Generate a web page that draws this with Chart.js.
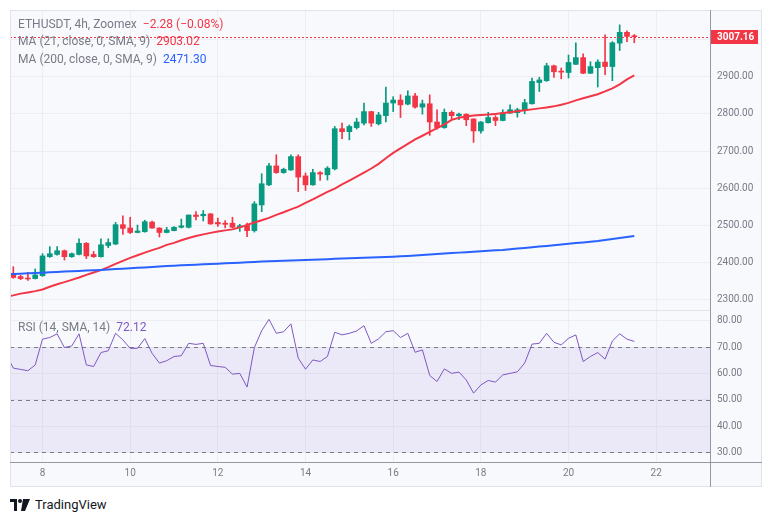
<!DOCTYPE html>
<html>
<head>
<meta charset="utf-8">
<script src="https://cdn.jsdelivr.net/npm/chart.js@4.4.1/dist/chart.umd.min.js"></script>
<style>
  html, body { margin: 0; padding: 0; background: #fff; }
  body { width: 772px; height: 523px; position: relative; overflow: hidden; font-family: Roboto, "Noto Sans", sans-serif; }
  .frame { position: absolute; left: 10px; top: 10px; width: 752px; height: 477px; background: #f8f9fd; }
  .box { position: absolute; left: 10px; width: 752px; }
  #mainBox { top: 10px; height: 301px; }
  #rsiBox { top: 311px; height: 176px; }
  .rule { position: absolute; pointer-events: none; }
  .legend { position: absolute; left: 18px; font-size: 12px; line-height: 14px; color: #787b86; white-space: nowrap; }
  .legend span { margin-left: 6px; }
  .brand { position: absolute; left: 10px; top: 497px; display: flex; align-items: center; font-size: 13px; color: #131722; }
  .brand svg { margin-right: 5px; }
</style>
</head>
<body>
<div class="frame"></div>
<div class="box" id="mainBox"><canvas id="mainChart"></canvas></div>
<div class="box" id="rsiBox"><canvas id="rsiChart"></canvas></div>

<div class="rule" style="left:10px;top:10px;width:752px;height:477px;border:1px solid #e0e3eb;box-sizing:border-box"></div>
<div class="rule" style="left:10px;top:310px;width:700px;height:1px;background:#e0e3eb"></div>
<div class="rule" style="left:10px;top:462px;width:752px;height:1px;background:#9598a1"></div>
<div class="rule" style="left:710px;top:10px;width:1px;height:477px;background:#9598a1"></div>

<div class="legend" style="top:17px">ETHUSDT, 4h, Zoomex<span style="color:#f23645">&minus;2.28 (&minus;0.08%)</span></div>
<div class="legend" style="top:34px">MA (21, close, 0, SMA, 9)<span style="color:#f23645">2903.02</span></div>
<div class="legend" style="top:52px">MA (200, close, 0, SMA, 9)<span style="color:#2962ff">2471.30</span></div>
<div class="legend" style="top:320px">RSI (14, SMA, 14)<span style="color:#7e57c2">72.12</span></div>

<div class="brand">
  <svg width="20" height="12" viewBox="0 0 20 12"><path d="M0 0h7v12H4V3H0z" fill="#131722"/><circle cx="10" cy="2" r="2" fill="#131722"/><path d="M13 0h7l-5 12h-4z" fill="#131722"/></svg>
  <span>TradingView</span>
</div>

<script>
// 4h candles, first one is the 7th 08:00
const opens  = [2369, 2362.6, 2358, 2357, 2365, 2416, 2422, 2432, 2416, 2422, 2452, 2422, 2416, 2446, 2450, 2502, 2493, 2481, 2483, 2509, 2493, 2481, 2486, 2495, 2495, 2528, 2526, 2531, 2508, 2506, 2506, 2495, 2500, 2486, 2555, 2609, 2660, 2642, 2649, 2685, 2633, 2609, 2642, 2636, 2652, 2760, 2752, 2763, 2775, 2806, 2773, 2795, 2829, 2837, 2826, 2848, 2818, 2827, 2778, 2763, 2804, 2795, 2799, 2786, 2754, 2776, 2790, 2782, 2802, 2803, 2809, 2827, 2884, 2889, 2929, 2915, 2911, 2933, 2951, 2909, 2924, 2939, 2927, 2990, 3019, 3009.44];
const highs  = [2389, 2366, 2374, 2383, 2424, 2443, 2443, 2434, 2426, 2464, 2454, 2430, 2464, 2464, 2508, 2526, 2522, 2501, 2514, 2512, 2494, 2495, 2497, 2517, 2528, 2537, 2540, 2532, 2520, 2513, 2522, 2503, 2506, 2564, 2639, 2667, 2690, 2654, 2690, 2690, 2641, 2651, 2645, 2658, 2766, 2775, 2770, 2788, 2829, 2807, 2804, 2872, 2846, 2851, 2862, 2855, 2837, 2851, 2811, 2813, 2808, 2802, 2800, 2787, 2779, 2804, 2795, 2811, 2824, 2815, 2839, 2896, 2898, 2936, 2931, 2923, 2958, 2991, 2961, 2940, 2945, 3012, 2994, 3039, 3023, 3013];
const lows   = [2358, 2354, 2352, 2356, 2363, 2414, 2420, 2407, 2414, 2421, 2411, 2414, 2415, 2440, 2448, 2476, 2478, 2480, 2482, 2492, 2469, 2480, 2485, 2493, 2493, 2515, 2512, 2503, 2497, 2493, 2493, 2484, 2470, 2482, 2537, 2607, 2640, 2640, 2648, 2591, 2594, 2608, 2621, 2622, 2649, 2733, 2730, 2759, 2770, 2766, 2770, 2778, 2806, 2790, 2824, 2815, 2799, 2742, 2759, 2761, 2784, 2784, 2768, 2723, 2748, 2775, 2768, 2781, 2801, 2791, 2800, 2826, 2860, 2887, 2898, 2894, 2896, 2932, 2908, 2908, 2872, 2905, 2889, 2970, 2994, 2991];
const closes = [2360, 2357, 2356, 2367, 2418, 2424, 2432, 2416, 2424, 2452, 2418, 2416, 2448, 2454, 2502, 2492, 2481, 2485, 2510, 2493, 2481, 2488, 2495, 2499, 2528, 2524, 2530, 2504, 2504, 2503, 2495, 2499, 2486, 2558, 2612, 2660, 2642, 2651, 2685, 2630, 2609, 2642, 2638, 2654, 2760, 2752, 2766, 2778, 2806, 2775, 2797, 2829, 2837, 2824, 2848, 2818, 2827, 2778, 2763, 2804, 2795, 2799, 2784, 2754, 2778, 2790, 2782, 2802, 2811, 2811, 2830, 2887, 2891, 2929, 2913, 2912, 2938, 2951, 2909, 2927, 2939, 2927, 2991, 3019, 3008, 3007.16];

// indicator series start one bar before the first visible candle
const ma21  = [2308, 2312, 2316.7, 2320, 2323.4, 2328, 2335, 2342, 2347.5, 2353.7, 2360, 2367, 2373.3, 2380, 2388, 2396.7, 2404.8, 2412.8, 2419.8, 2426.8, 2433.5, 2439.7, 2447.8, 2453, 2460, 2466, 2471.4, 2476, 2480, 2483.5, 2486.7, 2489.4, 2494.8, 2501.5, 2508, 2513.9, 2520.3, 2528.4, 2535.4, 2543.2, 2550.7, 2560.6, 2570, 2580, 2590.2, 2599, 2610.3, 2620.6, 2631, 2641.8, 2653, 2665.4, 2680.7, 2695, 2707, 2719, 2731, 2741, 2751.4, 2761.3, 2771.6, 2783.6, 2789.6, 2793, 2795.5, 2797, 2798, 2799.8, 2802, 2804.3, 2807, 2809.4, 2811.9, 2814.6, 2817.2, 2820, 2824.5, 2829.3, 2836, 2842, 2847.3, 2852.7, 2860.2, 2868.3, 2879, 2892.5, 2903.02];
const ma200 = [2368.7, 2369.5, 2370.4, 2371.3, 2372.2, 2373.1, 2374.0, 2375.0, 2375.9, 2376.8, 2377.7, 2378.6, 2379.5, 2380.5, 2381.6, 2382.7, 2383.8, 2384.9, 2386.0, 2387.1, 2388.2, 2389.5, 2390.8, 2391.8, 2392.7, 2393.6, 2394.5, 2395.4, 2396.3, 2397.2, 2398.1, 2399.0, 2399.9, 2400.8, 2401.8, 2402.8, 2403.6, 2404.3, 2405.0, 2405.8, 2406.5, 2407.2, 2408.0, 2408.7, 2409.4, 2410.1, 2410.8, 2411.5, 2412.2, 2412.9, 2413.6, 2414.3, 2415.0, 2415.9, 2416.9, 2418.1, 2419.3, 2420.5, 2421.7, 2423.0, 2424.3, 2425.6, 2426.9, 2428.2, 2429.5, 2430.7, 2431.9, 2433.0, 2434.1, 2435.9, 2437.7, 2439.5, 2441.3, 2443.1, 2444.9, 2446.8, 2448.7, 2450.6, 2452.5, 2454.4, 2456.3, 2458.2, 2460.8, 2463.4, 2466.0, 2468.6, 2471.3];
const rsi   = [67.5, 62, 61.5, 61, 63.2, 73, 73.6, 75, 69.8, 70.4, 75, 63.2, 62.6, 67.9, 68.6, 75.2, 72.7, 69.5, 69.5, 73.2, 67.6, 63.9, 64.8, 66.4, 66.7, 71.4, 71, 71.4, 63, 62.6, 62.3, 59.7, 60, 54.8, 69.8, 76.2, 80.5, 75.2, 75.8, 78.8, 65.8, 61.6, 65.1, 64.5, 66.4, 75.6, 74.6, 75.2, 76.1, 78.1, 71.4, 73.1, 75.8, 76.2, 73.6, 75.2, 68, 68.9, 59.2, 56.9, 61.7, 60, 60.5, 57.5, 52.5, 55.6, 57.3, 56.7, 59.4, 60, 60.6, 63.9, 71.1, 71.4, 75.2, 71.8, 70.8, 73.3, 74.6, 64.5, 66.4, 67.9, 65.4, 72.3, 75, 73, 72.12];

const dayBars   = [4, 16, 28, 40, 52, 64, 76, 88];
const dayLabels = ['8', '10', '12', '14', '16', '18', '20', '22'];
const priceTicks = [2300, 2400, 2500, 2600, 2700, 2800, 2900, 3000];
const rsiTicks   = [30, 40, 50, 60, 70, 80];
const rsiLevels  = [70, 50, 30];

const GREEN = '#089981', RED = '#f23645', BLUE = '#2962ff', PURPLE = '#7e57c2';
const GRID = '#eceef2', TICK = '#787b86';
const X_MIN = -0.45, X_MAX = 95.5;
const FONT = { family: 'Roboto', size: 10 };

const candleColors = closes.map((c, i) => c >= opens[i] ? GREEN : RED);
const bodies = opens.map((o, i) => ({ x: i, y: [o, closes[i]] }));
const wicks = lows.map((l, i) => ({ x: i, y: [l, highs[i]] }));
const asLine = arr => arr.map((v, i) => ({ x: i - 1, y: v }));

// no auto padding, the panes have to line up exactly
const noPad = s => { s.paddingTop = 0; s.paddingBottom = 0; s.paddingLeft = 0; s.paddingRight = 0; };

const xAxis = height => ({
  type: 'linear', min: X_MIN, max: X_MAX, offset: false,
  grid: { color: GRID, drawTicks: false, offset: false },
  border: { display: false },
  afterBuildTicks: s => { s.ticks = dayBars.map(v => ({ value: v })); },
  afterFit: s => { s.height = height; noPad(s); }
});

const yAxis = (min, max, ticks, label) => ({
  position: 'right', min, max,
  afterBuildTicks: s => { s.ticks = ticks.map(v => ({ value: v })); },
  grid: { color: GRID, drawTicks: false },
  border: { display: false },
  ticks: { color: TICK, font: FONT, padding: 6, callback: label },
  afterFit: s => { s.width = 51; noPad(s); }
});

const priceLine = {
  id: 'priceLine',
  afterDraw(chart) {
    const { ctx, chartArea: a, scales: { y } } = chart;
    const last = closes[closes.length - 1];
    const py = Math.round(y.getPixelForValue(last)) + 0.5;
    ctx.save();
    ctx.strokeStyle = RED;
    ctx.lineWidth = 1;
    ctx.setLineDash([2, 2]);
    ctx.beginPath();
    ctx.moveTo(a.left, py);
    ctx.lineTo(a.right, py);
    ctx.stroke();
    ctx.fillStyle = RED;
    ctx.fillRect(a.right, py - 7.5, 47, 14);
    ctx.fillStyle = '#fff';
    ctx.font = 'bold 10px Roboto';
    ctx.textBaseline = 'middle';
    ctx.fillText(last.toFixed(2), a.right + 6, py);
    ctx.restore();
  }
};

const rsiBand = {
  id: 'rsiBand',
  beforeDatasetsDraw(chart) {
    const { ctx, chartArea: a, scales: { y } } = chart;
    ctx.save();
    ctx.fillStyle = 'rgba(126, 87, 194, 0.1)';
    const top = y.getPixelForValue(70), bot = y.getPixelForValue(30);
    ctx.fillRect(a.left, top, a.right - a.left, bot - top);
    ctx.strokeStyle = TICK;
    ctx.lineWidth = 1;
    ctx.setLineDash([4, 4]);
    rsiLevels.forEach(lv => {
      const py = Math.round(y.getPixelForValue(lv)) + 0.5;
      ctx.beginPath();
      ctx.moveTo(a.left, py);
      ctx.lineTo(a.right, py);
      ctx.stroke();
    });
    ctx.restore();
  }
};

const common = {
  responsive: true,
  maintainAspectRatio: false,
  animation: false,
  layout: { padding: 0 },
  plugins: { legend: { display: false }, tooltip: { enabled: false } }
};

const mainX = xAxis(0);
mainX.ticks = { display: false };

new Chart(document.getElementById('mainChart'), {
  type: 'bar',
  data: {
    datasets: [
      { type: 'line', data: asLine(ma200), borderColor: BLUE, borderWidth: 2, pointRadius: 0, order: 0 },
      { type: 'line', data: asLine(ma21), borderColor: RED, borderWidth: 2, pointRadius: 0, order: 1 },
      { data: bodies, backgroundColor: candleColors, barThickness: 5, minBarLength: 1, grouped: false, order: 2 },
      { data: wicks, backgroundColor: candleColors, barThickness: 1, grouped: false, order: 3 }
    ]
  },
  options: {
    ...common,
    scales: {
      x: mainX,
      y: yAxis(2270, 3079, priceTicks, v => v === 3000 ? '' : v.toFixed(2))
    }
  },
  plugins: [priceLine]
});

const rsiX = xAxis(25);
rsiX.ticks = { color: TICK, font: FONT, padding: 5, maxRotation: 0, autoSkip: false,
               callback: v => dayLabels[dayBars.indexOf(v)] };

new Chart(document.getElementById('rsiChart'), {
  type: 'line',
  data: {
    datasets: [{ data: asLine(rsi), borderColor: PURPLE, borderWidth: 1, pointRadius: 0 }]
  },
  options: {
    ...common,
    scales: {
      x: rsiX,
      y: yAxis(26.36, 83.67, rsiTicks, v => v.toFixed(2))
    }
  },
  plugins: [rsiBand]
});
</script>
</body>
</html>
